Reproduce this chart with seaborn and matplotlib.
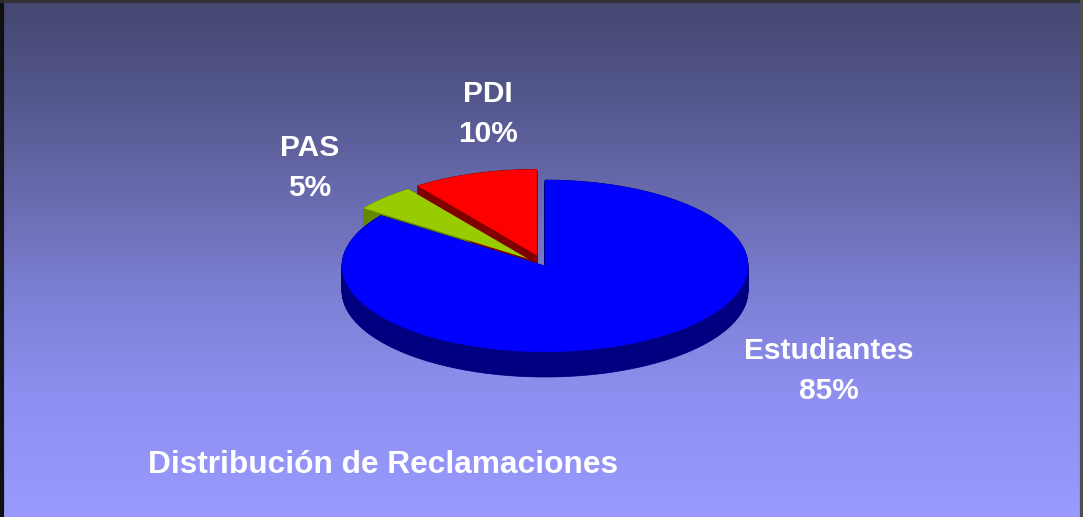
import numpy as np
import seaborn as sns
import matplotlib.pyplot as plt
from matplotlib.patches import Polygon
from matplotlib.colors import LinearSegmentedColormap

# data
labels = ['Estudiantes', 'PAS', 'PDI']
values = [85, 5, 10]
pct_labels = ['85%', '5%', '10%']
title = 'Distribución de Reclamaciones'

top_colors = ['#0000FF', '#99CC00', '#FF0000']
side_colors = ['#000080', '#668800', '#800000']
explode = [0.0, 0.12, 0.13]

sns.set_style('white')
plt.rcParams['font.family'] = ['Liberation Sans', 'DejaVu Sans']

W, H = 1083, 517
fig = plt.figure(figsize=(W / 100, H / 100), dpi=100)
ax = fig.add_axes([0, 0, 1, 1])
ax.set_xlim(0, W)
ax.set_ylim(H, 0)
ax.axis('off')

# background gradient
stops = [(0.0, '#454770'), (0.19, '#54578d'), (0.39, '#6a6cb0'),
         (0.58, '#7e80d6'), (0.74, '#8c8ded'), (1.0, '#9a9aff')]
cmap = LinearSegmentedColormap.from_list('bg', stops)
grad = np.linspace(0, 1, 256).reshape(-1, 1)
ax.imshow(grad, cmap=cmap, extent=[0, W, H, 0], aspect='auto', zorder=0)

# 3d pie geometry (pixels)
cx, cy, rx, ry, depth = 545, 266, 203, 86, 25


def wedge_points(a0, a1, dx, dy):
    t = np.radians(np.linspace(a0, a1, 200))
    xs = np.concatenate([[cx + dx], cx + dx + rx * np.cos(t)])
    ys = np.concatenate([[cy + dy], cy + dy - ry * np.sin(t)])
    return np.column_stack([xs, ys])


total = sum(values)
angles = []
start = 90.0
for v in values:
    sweep = 360.0 * v / total
    angles.append((start - sweep, start))
    start -= sweep

# back slices first, blue last
order = [1, 2, 0]
for i in order:
    a0, a1 = angles[i]
    mid = np.radians((a0 + a1) / 2)
    dx = explode[i] * rx * np.cos(mid)
    dy = -explode[i] * ry * np.sin(mid)
    pts = wedge_points(a0, a1, dx, dy)
    for k in np.linspace(depth, 0, 40):
        ax.add_patch(Polygon(pts + [0, k], closed=True, facecolor=side_colors[i],
                             edgecolor=side_colors[i], lw=0.5, zorder=2))
    ax.add_patch(Polygon(pts, closed=True, facecolor=top_colors[i],
                         edgecolor='none', zorder=3))

# labels
label_pos = {'Estudiantes': (829, 359), 'PAS': (310, 156), 'PDI': (488, 102)}
for lab, pct in zip(labels, pct_labels):
    x, y = label_pos[lab]
    ax.text(x, y, lab, ha='center', va='baseline', color='white',
            fontsize=21.5, fontweight='bold', zorder=5)
    ax.text(x, y + 40, pct, ha='center', va='baseline', color='white',
            fontsize=21.5, fontweight='bold', zorder=5)

ax.text(148, 473, title, ha='left', va='baseline', color='white',
        fontsize=22.8, fontweight='bold', zorder=5)

# frame
ax.plot([1.5, 1.5], [0, H], color='#101010', lw=3, zorder=6)
ax.plot([0, W], [1, 1], color='#303030', lw=2, zorder=6)
ax.plot([W - 1.5, W - 1.5], [0, H], color='#505050', lw=3, zorder=6)

fig.savefig('out.png', dpi=100)
